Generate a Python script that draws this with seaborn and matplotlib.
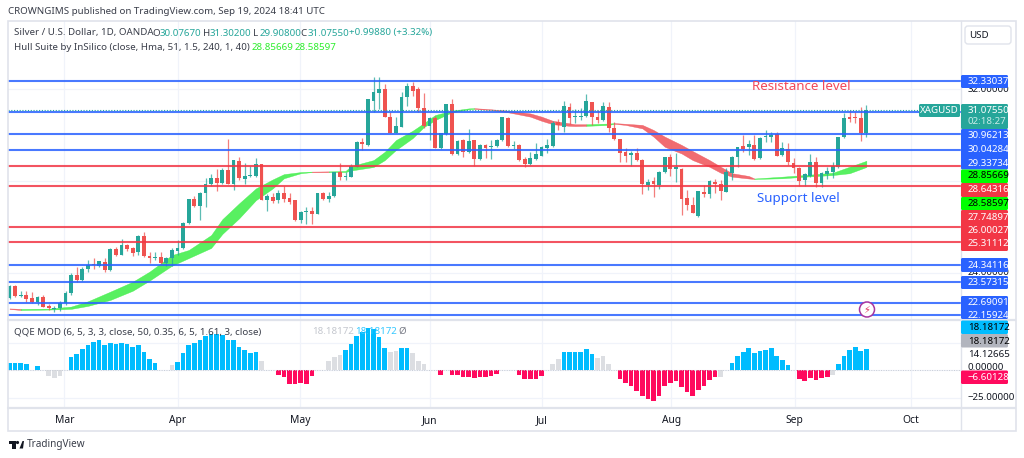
import numpy as np
import pandas as pd
import matplotlib
matplotlib.use('Agg')
import matplotlib.pyplot as plt
from matplotlib.patches import Rectangle, Circle, FancyBboxPatch, Polygon
import seaborn as sns

# Candles (XAGUSD daily)
opens = [22.88,23.42,22.98,23.02,22.88,22.71,22.95,22.55,22.41,22.46,
         22.66,23.10,23.88,23.66,24.15,24.36,24.29,24.47,24.11,25.01,
         24.78,25.18,25.05,24.88,25.59,24.72,24.65,24.69,24.40,24.63,
         24.94,25.07,26.14,27.18,26.89,27.45,27.84,28.12,27.89,28.46,
         27.85,28.86,28.08,28.20,28.21,28.71,27.17,27.30,27.14,27.45,
         27.24,27.14,26.27,26.63,26.68,26.56,27.46,27.20,27.32,28.36,
         28.17,28.17,28.60,29.68,29.56,31.47,31.79,31.97,30.78,30.07,
         30.34,31.62,32.10,31.97,31.15,30.37,30.71,29.43,30.01,31.33,
         29.14,29.75,29.23,29.75,28.94,29.56,29.47,29.50,29.75,30.71,
         29.50,29.56,28.92,28.72,28.92,29.08,29.43,29.50,30.56,30.34,
         31.21,30.75,30.75,30.81,31.40,30.78,30.63,31.21,30.28,29.79,
         29.23,29.11,29.21,28.89,27.81,27.98,27.79,28.39,29.04,28.52,
         28.52,27.26,26.94,26.45,27.50,27.42,27.95,27.84,27.52,28.32,
         29.01,29.50,29.45,29.55,28.97,29.88,29.91,30.03,29.11,29.37,
         28.78,28.53,28.02,28.21,28.82,27.91,28.28,28.39,28.58,29.88,
         30.75,30.78,30.71,30.08]
closes = [23.42,22.98,23.04,22.86,22.72,22.95,22.52,22.45,22.45,22.69,
          23.12,23.91,23.66,24.17,24.33,24.32,24.49,24.11,25.01,24.76,
          25.18,25.01,24.86,25.60,24.71,24.63,24.69,24.42,24.65,24.98,
          25.08,26.16,27.18,26.89,27.47,27.85,28.12,27.89,28.46,27.85,
          28.88,28.10,28.20,28.24,28.71,27.17,27.32,27.11,27.45,27.20,
          27.08,26.27,26.63,26.68,26.53,27.45,27.20,27.33,28.36,28.14,
          28.21,28.65,29.69,29.58,31.53,31.84,31.97,30.75,30.07,30.37,
          31.65,32.10,31.91,31.14,30.36,30.71,29.43,30.05,31.33,29.14,
          29.73,29.25,29.72,28.94,29.56,29.43,29.52,29.76,30.75,29.50,
          29.55,28.89,28.72,28.97,29.15,29.45,29.53,30.52,30.42,31.24,
          30.71,30.81,30.81,31.46,30.75,30.63,31.24,30.27,29.81,29.21,
          29.08,29.18,28.89,27.84,27.95,27.84,28.39,29.01,28.50,28.57,
          27.21,26.94,26.59,27.55,27.42,27.98,27.84,27.56,28.39,29.04,
          29.45,29.37,29.59,28.92,29.84,29.94,29.98,29.08,29.40,28.82,
          28.53,28.00,28.28,28.82,27.91,28.34,28.41,28.63,29.88,30.71,
          30.66,30.71,30.05,31.08]
highs = [23.46,23.47,23.21,23.20,23.17,22.98,23.02,22.63,22.55,22.78,
         23.21,23.97,24.23,24.23,24.55,24.62,24.52,24.62,25.07,25.12,
         25.44,25.24,25.12,25.63,25.78,24.91,24.88,24.89,24.69,25.05,
         25.42,26.19,27.21,27.33,27.52,28.10,28.28,28.49,28.53,29.81,
         28.89,29.01,28.75,28.63,28.97,28.72,27.42,27.45,27.59,27.76,
         27.45,27.15,26.68,26.85,26.86,27.47,27.52,27.52,28.39,28.76,
         28.39,28.72,29.72,29.84,31.56,32.52,32.49,32.20,30.99,30.78,
         31.84,32.23,32.29,32.08,31.79,30.75,30.81,30.08,31.34,31.53,
         29.76,29.79,30.24,29.76,29.59,29.59,29.75,29.79,30.78,30.75,
         29.73,29.59,29.01,29.26,29.62,29.50,29.79,30.60,30.66,31.47,
         31.39,31.13,31.14,31.76,31.43,31.07,31.40,31.40,30.55,29.82,
         29.40,29.30,29.43,28.92,28.07,28.17,28.42,29.04,29.15,29.20,
         28.56,27.59,27.30,27.56,27.82,28.02,28.05,28.02,28.53,29.08,
         29.47,29.98,29.76,29.98,29.88,30.20,30.13,30.13,29.69,29.62,
         28.97,28.58,28.34,29.15,29.04,28.39,28.58,28.82,29.91,30.92,
         31.07,30.99,31.21,31.30]
lows = [22.84,22.95,22.92,22.73,22.69,22.59,22.49,22.38,22.28,22.33,
        22.60,23.04,23.60,23.62,24.01,24.17,24.26,24.01,24.08,24.73,
        24.75,24.95,24.73,24.78,24.66,24.43,24.55,24.37,24.29,24.29,
        24.76,25.04,26.11,26.86,26.29,26.86,27.76,27.56,27.85,27.84,
        27.59,28.02,27.85,28.14,28.17,27.15,26.68,27.01,27.04,27.08,
        26.98,26.25,26.14,26.10,26.11,26.53,27.17,27.06,27.29,28.02,
        28.02,28.14,28.58,29.33,29.50,30.99,31.10,30.75,30.05,30.05,
        30.32,31.24,31.68,30.99,30.27,29.76,29.40,29.37,29.98,29.11,
        29.11,29.04,29.18,28.63,28.89,28.97,28.94,29.44,29.72,29.47,
        29.36,28.86,28.58,28.68,28.89,29.07,29.21,29.47,30.20,30.10,
        30.46,30.49,30.63,30.78,30.42,30.49,30.60,30.10,29.76,28.82,
        28.82,28.63,28.86,27.42,27.59,27.30,27.62,28.32,28.21,27.94,
        26.50,26.72,26.58,26.43,27.27,27.23,27.45,27.15,27.49,28.02,
        28.60,29.25,29.11,28.89,28.92,29.69,29.69,29.07,29.07,28.68,
        28.32,27.76,27.76,28.17,27.73,27.71,28.05,28.10,28.53,29.84,
        30.56,30.52,29.72,29.91]

# Hull Suite band, read at these bars
hull_bars = [0,2,7,11,14,18,22,25,29,32,36,38,41,44,47,49,52,54,57,60,61,65,67,69,72,74,76,79,82,83,
             86,89,93,95,97,100,101,103,107,108,110,113,115,117,120,122,125,127,129,132,133,138,142,147,150,153]
hull_top = [22.44,22.42,22.43,22.52,22.75,23.17,23.60,24.04,24.76,24.98,25.63,26.32,27.01,27.66,28.05,28.28,28.37,28.39,28.40,28.42,28.63,28.89,29.25,29.76,30.17,30.50,30.85,31.04,31.14,31.15,
            31.10,31.04,30.92,30.78,30.60,30.49,30.45,30.45,30.48,30.50,30.47,30.42,30.20,29.91,29.55,29.28,28.89,28.60,28.32,28.20,28.09,28.17,28.24,28.34,28.60,28.86]
hull_bot = [22.42,22.37,22.39,22.42,22.55,22.81,23.21,23.65,24.30,24.63,25.07,25.68,26.36,27.15,27.66,28.10,28.32,28.37,28.37,28.37,28.44,28.59,28.89,29.33,29.85,30.33,30.63,30.97,31.10,31.12,
            31.07,30.97,30.78,30.60,30.45,30.38,30.37,30.38,30.42,30.47,30.42,30.27,29.91,29.47,29.18,28.89,28.60,28.34,28.17,28.09,28.07,28.10,28.17,28.24,28.32,28.59]
hull_breaks = [0,2,54,57,83,103,108,133,153]  # colour flips here, starts red

# Drawn levels
blue_levels = [32.33037,30.96213,30.04284,29.33734,24.34116,23.57315,22.69091,22.15924]
red_levels = [28.64316,27.74897,26.00027,25.31112]
last_price = 31.0755

# QQE MOD histogram, 0 means no bar
qqe = [6.6,6.6,6.6,5.4,0,3.9,0,-4.8,-6.6,-4.8,
       0,12.0,14.7,19.2,22.8,25.2,27.0,22.8,24.6,23.4,
       24.6,23.4,20.7,22.8,16.2,10.2,6.9,0,0,4.8,
       7.8,15.3,22.5,24.6,27.6,30.6,32.4,32.4,31.8,27.0,
       27.0,21.0,18.3,15.9,16.8,8.4,0,0,-4.5,-6.3,
       -12.3,-12.6,-11.7,-12.6,-5.1,0,0,8.4,12.0,14.1,
       18.3,24.0,31.2,34.2,37.8,37.2,30.0,20.4,16.2,17.7,
       19.8,19.8,15.3,8.4,5.4,0,0,-3.9,0,-3.9,
       -4.2,-6.3,-5.7,-7.2,-6.3,-5.7,-4.8,-3.3,0,0,
       0,-4.2,-8.1,-8.1,-7.8,-4.8,0,6.0,10.2,16.2,
       16.2,16.2,16.2,19.2,14.7,11.4,12.6,6.0,0,-7.5,
       -11.7,-14.4,-18.6,-22.8,-25.8,-27.3,-22.8,-13.8,-11.7,-9.6,
       -14.7,-19.2,-22.8,-17.4,-13.8,-9.0,-5.7,-6.3,0,6.6,
       12.6,16.2,19.8,15.6,17.4,18.6,19.8,12.6,9.6,4.8,
       0,-8.1,-9.9,-6.6,-9.0,-7.2,-6.3,-3.9,5.4,12.6,
       18.3,21.0,17.7,19.2]
qqe_gray = [7,8,9,29,45,57,58,59,68,69,72,73,74,97,98,105,106,107,127,147]

month_labels = ['Mar','Apr','May','Jun','Jul','Aug','Sep','Oct']
month_bars = [9.8,30,51.9,75,95,118.2,140.2,161]

TEAL = '#26a69a'
RED = '#ef5350'
BLUE = '#2962ff'
LINE_RED = '#f23645'
GRID = '#f0f3fa'
EDGE = '#e0e3eb'
INK = '#3a3e4a'

sns.set_theme(style='white')
plt.rcParams['font.family'] = ['Noto Sans', 'DejaVu Sans']

fig = plt.figure(figsize=(10.24, 4.58), dpi=100, facecolor='white')
ax = fig.add_axes([8/1024, 1-319/458, 953/1024, 298/458])
sub = fig.add_axes([8/1024, 1-407/458, 953/1024, 87/458])

bars = np.arange(len(opens))
o, h, l, c = map(np.array, (opens, highs, lows, closes))

# Hull band under the candles
hx, ht, hb = map(np.array, (hull_bars, hull_top, hull_bot))
for k in range(len(hull_breaks)-1):
    m = (hx >= hull_breaks[k]) & (hx <= hull_breaks[k+1])
    col = '#ef5258' if k % 2 == 0 else '#3bee45'
    ax.fill_between(hx[m], hb[m], ht[m], color=col, alpha=0.85, lw=0.3, zorder=2)

# Candles
up = c >= o
cols = np.where(up, TEAL, RED)
ax.vlines(bars, l, h, colors=cols, lw=0.9, alpha=0.75, zorder=3)
ax.bar(bars, np.maximum(np.abs(c-o), 0.03), bottom=np.minimum(o, c), width=0.68, color=cols, lw=0, zorder=4)

# Levels
for v in blue_levels:
    ax.axhline(v, color=BLUE, lw=1.5, alpha=0.85, zorder=5)
for v in red_levels:
    ax.axhline(v, color=LINE_RED, lw=1.5, alpha=0.85, zorder=5)
ax.axhline(last_price, color=TEAL, lw=0.8, ls=(0, (1, 1.5)), zorder=5)

ax.text(132.6, 32.07, 'Resistance level', color='#f2485a', fontsize=9.6, va='center', zorder=6)
ax.text(133.5, 27.24, 'Support level', color=BLUE, fontsize=9.6, va='center', zorder=6)

ax.set_xlim(-0.27, 169.9)
ax.set_ylim(21.98, 34.94)
ax.set_xticks(month_bars)
ax.set_yticks([32, 28, 24])
ax.set_xticklabels([])
ax.set_yticklabels([])
ax.grid(True, color=GRID, lw=0.9)
ax.set_axisbelow(True)
ax.tick_params(length=0)

# QQE histogram
df = pd.DataFrame({'bar': bars, 'qqe': qqe})
df = df[df['qqe'] != 0].copy()
df['kind'] = np.where(df['bar'].isin(qqe_gray), 'flat', np.where(df['qqe'] > 0, 'up', 'down'))
sns.barplot(data=df, x='bar', y='qqe', hue='kind', native_scale=True, dodge=False, width=0.84,
            palette={'up': '#00bcff', 'down': '#ff0a5e', 'flat': '#dcdee2'}, legend=False,
            saturation=1, linewidth=0, ax=sub, zorder=3)
sub.axhline(0, color='#c8ccd4', lw=0.7, ls=(0, (1, 1.5)), zorder=4)
sub.set_xlim(-0.27, 169.9)
sub.set_ylim(-33, 45.3)
sub.set_xticks(month_bars, month_labels)
sub.set_yticks([25, 0, -25])
sub.set_yticklabels([])
sub.set_xlabel('')
sub.set_ylabel('')
sub.grid(True, color=GRID, lw=0.9)
sub.set_axisbelow(True)
sub.tick_params(axis='both', length=0)
sub.tick_params(axis='x', labelsize=7.4, labelcolor='#131722', pad=6)

for a in (ax, sub):
    for s in a.spines.values():
        s.set_visible(False)

# Frame, price scale and header sit on a pixel overlay
top = fig.add_axes([0, 0, 1, 1], facecolor='none')
top.set_xlim(0, 1024)
top.set_ylim(458, 0)
top.axis('off')

top.add_patch(Rectangle((7.5, 20.5), 1008, 410, fill=False, ec=EDGE, lw=1.2))
top.plot([961, 961], [20.5, 430], color=EDGE, lw=1)
top.plot([8, 1015], [319.5, 319.5], color=EDGE, lw=1.6)
top.plot([8, 1015], [407.5, 407.5], color=EDGE, lw=1.6)

top.text(8, 12, 'CROWNGIMS published on TradingView.com, Sep 19, 2024 18:41 UTC', fontsize=7, color=INK, va='center')

fs = 7
top.text(14, 33, 'Silver / U.S. Dollar, 1D, OANDA', fontsize=fs, color=INK, va='center')
for lab, val, x0 in [('O', '30.07670', 152.5), ('H', '31.30200', 203), ('L', '29.90800', 252.5), ('C', '31.07550', 300.5)]:
    top.text(x0, 33, lab, fontsize=fs, color=INK, va='center')
    top.text(x0+7, 33, val, fontsize=fs, color=TEAL, va='center')
top.text(349, 33, '+0.99880 (+3.32%)', fontsize=fs, color=TEAL, va='center')
top.text(14, 47, 'Hull Suite by InSilico (close, Hma, 51, 1.5, 240, 1, 40)', fontsize=fs, color=INK, va='center')
top.text(252, 47, '28.85669', fontsize=fs, color='#2bee2b', va='center')
top.text(295, 47, '28.58597', fontsize=fs, color='#2bee2b', va='center')

top.text(14, 331.5, 'QQE MOD (6, 5, 3, 3, close, 50, 0.35, 6, 5, 1.61, 3, close)', fontsize=fs, color=INK, va='center')
top.text(312, 331.5, '18.18172', fontsize=fs, color='#c4c7ce', va='center')
top.text(355, 331.5, '18.18172', fontsize=fs, color='#35c8ff', va='center')
top.text(402, 331.5, '\u00d8', fontsize=fs, color='#787b86', va='center', ha='center')

# USD button
top.add_patch(FancyBboxPatch((965, 26), 46, 18, boxstyle='round,pad=0,rounding_size=3', fc='white', ec=EDGE, lw=1))
top.text(979, 35, 'USD', fontsize=7, color='#131722', va='center', ha='center')

# plain scale labels that get covered by the boxes
for txt, y in [('32.00000', 89), ('24.00000', 272.5), ('14.12665', 354.7), ('0.00000', 368), ('\u221225.00000', 397.7)]:
    top.text(968, y, txt, fontsize=7, color='#131722', va='center')

# coloured price tags: (top, bottom, colour)
boxes = [(75, 88, BLUE), (104, 129, TEAL), (129, 169.5, BLUE), (169.5, 183, '#00ff00'), (183, 197, LINE_RED),
         (197, 210, '#00ff00'), (210, 251, LINE_RED), (258, 272, BLUE), (276, 289, BLUE), (296, 319, BLUE),
         (320.5, 334, '#00bcff'), (334, 347.5, '#b2b5be'), (370.5, 384, '#ff0a5e')]
for y0, y1, col in boxes:
    top.add_patch(FancyBboxPatch((961, y0), 47, y1-y0, boxstyle='round,pad=0,rounding_size=1.5', fc=col, ec='none', zorder=3))

tags = [('32.33037', 81.5, 'white'), ('31.07550', 110.5, 'white'), ('02:18:27', 121.7, '#c9ece8'),
        ('30.96213', 135.7, 'white'), ('30.04284', 149.3, 'white'), ('29.33734', 163.3, 'white'),
        ('28.85669', 176, 'black'), ('28.64316', 190, 'white'), ('28.58597', 203.5, 'black'),
        ('27.74897', 217.3, 'white'), ('26.00027', 230.7, 'white'), ('25.31112', 244, 'white'),
        ('24.34116', 265, 'white'), ('23.57315', 282.7, 'white'), ('22.69091', 302.7, 'white'),
        ('22.15924', 315.5, 'white'), ('18.18172', 327.3, 'black'), ('18.18172', 341, 'black'),
        ('\u22126.60128', 377.3, 'white')]
for txt, y, col in tags:
    top.text(968 if not txt.startswith('\u2212') else 967, y, txt, fontsize=7, color=col, va='center', zorder=4)

top.add_patch(FancyBboxPatch((919, 104), 41, 13, boxstyle='round,pad=0,rounding_size=1.5', fc=TEAL, ec='none', zorder=3))
top.text(939.5, 110.5, 'XAGUSD', fontsize=7, color='white', va='center', ha='center', zorder=4)

# lightning badge
top.add_patch(Circle((867, 309.5), 7.5, fc='white', ec='#a8359f', lw=1.1, zorder=6))
top.text(867, 309.5, '\u26a1', fontsize=7, color='#e0315b', va='center', ha='center', family='DejaVu Sans', zorder=7)

# TradingView logo
top.add_patch(Rectangle((8.5, 441), 7, 3, fc='#131722', ec='none'))
top.add_patch(Rectangle((12, 441), 3.5, 7.5, fc='#131722', ec='none'))
top.add_patch(Circle((17.5, 442.5), 1.6, fc='#131722', ec='none'))
top.add_patch(Polygon([(19.5, 448.5), (22.5, 441), (24, 441), (23, 448.5)], fc='#131722', ec='none'))
top.text(26.5, 444.5, 'TradingView', fontsize=7.2, color='#3a3e4a', va='center')

fig.savefig('out.png', dpi=100)
